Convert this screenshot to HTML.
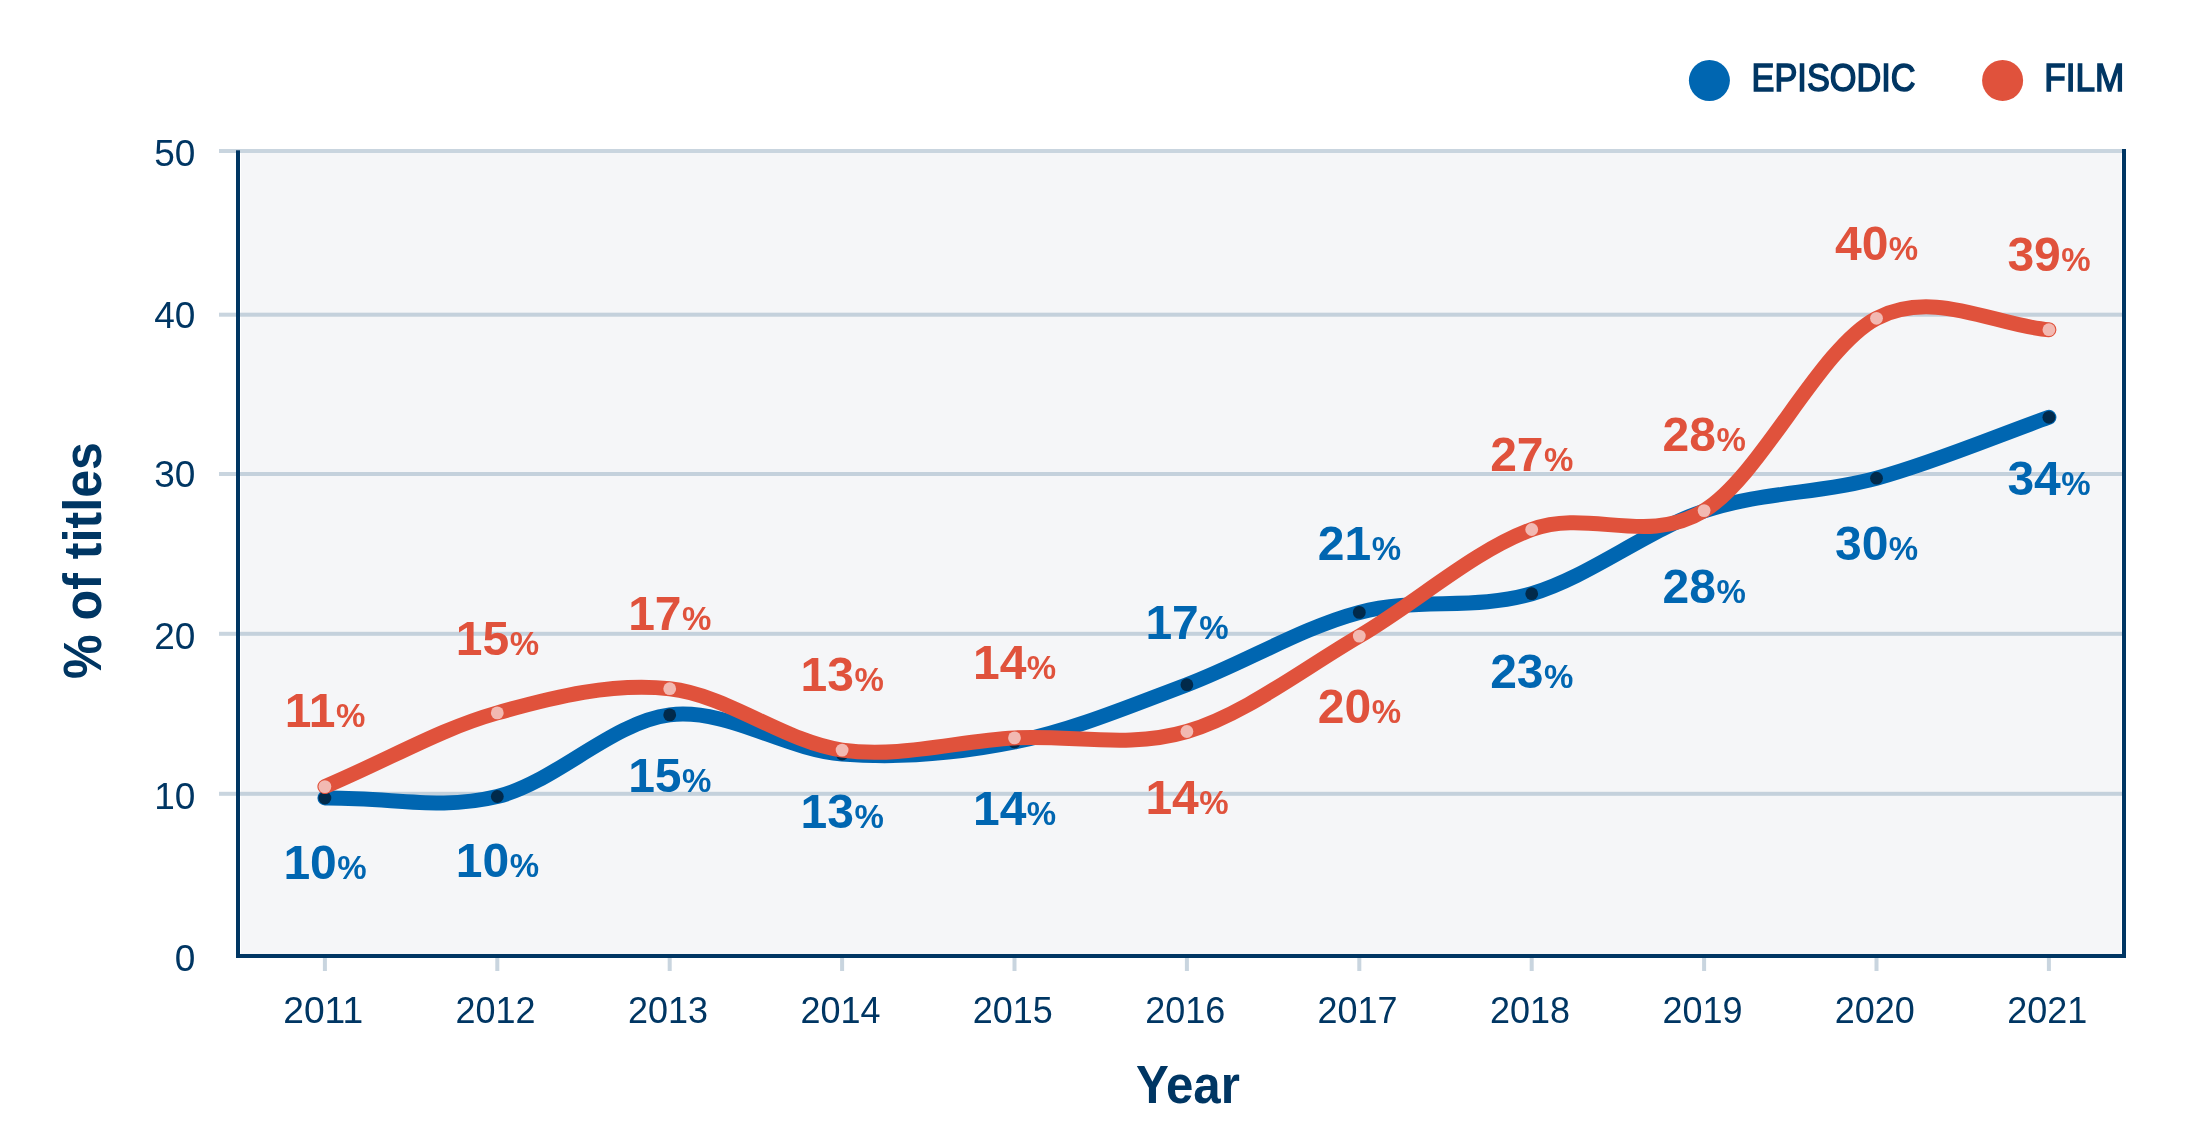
<!DOCTYPE html>
<html><head><meta charset="utf-8"><title>% of titles by year</title>
<style>
html,body{margin:0;padding:0;background:#fff;}
svg{display:block;will-change:transform;}
text{font-family:'Liberation Sans', Arial, sans-serif;}
</style></head><body>
<svg width="2197" height="1148" viewBox="0 0 2197 1148">
<rect x="0" y="0" width="2197" height="1148" fill="#fff"/>
<rect x="241" y="153" width="1880" height="801" fill="#F5F6F8"/>

<rect x="219" y="149.0" width="1903" height="4" fill="rgba(147,171,191,0.5)"/>
<rect x="219" y="312.7" width="1903" height="4" fill="rgba(147,171,191,0.5)"/>
<rect x="219" y="472.0" width="1903" height="4" fill="rgba(147,171,191,0.5)"/>
<rect x="219" y="631.8" width="1903" height="4" fill="rgba(147,171,191,0.5)"/>
<rect x="219" y="791.8" width="1903" height="4" fill="rgba(147,171,191,0.5)"/>
<rect x="322.9" y="958" width="4" height="13" fill="rgba(147,171,191,0.5)"/>
<rect x="495.3" y="958" width="4" height="13" fill="rgba(147,171,191,0.5)"/>
<rect x="667.7" y="958" width="4" height="13" fill="rgba(147,171,191,0.5)"/>
<rect x="840.1" y="958" width="4" height="13" fill="rgba(147,171,191,0.5)"/>
<rect x="1012.5" y="958" width="4" height="13" fill="rgba(147,171,191,0.5)"/>
<rect x="1184.9" y="958" width="4" height="13" fill="rgba(147,171,191,0.5)"/>
<rect x="1357.3" y="958" width="4" height="13" fill="rgba(147,171,191,0.5)"/>
<rect x="1529.7" y="958" width="4" height="13" fill="rgba(147,171,191,0.5)"/>
<rect x="1702.1" y="958" width="4" height="13" fill="rgba(147,171,191,0.5)"/>
<rect x="1874.5" y="958" width="4" height="13" fill="rgba(147,171,191,0.5)"/>
<rect x="2046.9" y="958" width="4" height="13" fill="rgba(147,171,191,0.5)"/>
<rect x="236" y="150.3" width="4" height="807.7" fill="#003663"/>
<rect x="2122" y="149" width="4" height="809" fill="#003663"/>
<rect x="236" y="954" width="1890" height="4" fill="#003663"/>
<text x="195.3" y="165.5" font-size="37" fill="#003663" text-anchor="end">50</text>
<text x="195.3" y="327.6" font-size="37" fill="#003663" text-anchor="end">40</text>
<text x="195.3" y="487.4" font-size="37" fill="#003663" text-anchor="end">30</text>
<text x="195.3" y="648.5" font-size="37" fill="#003663" text-anchor="end">20</text>
<text x="195.3" y="808.5" font-size="37" fill="#003663" text-anchor="end">10</text>
<text x="195.3" y="970.6" font-size="37" fill="#003663" text-anchor="end">0</text>
<text x="323.2" y="1023" font-size="37.5" fill="#003663" text-anchor="middle" textLength="80" lengthAdjust="spacingAndGlyphs">2011</text>
<text x="495.6" y="1023" font-size="37.5" fill="#003663" text-anchor="middle" textLength="80" lengthAdjust="spacingAndGlyphs">2012</text>
<text x="668.0" y="1023" font-size="37.5" fill="#003663" text-anchor="middle" textLength="80" lengthAdjust="spacingAndGlyphs">2013</text>
<text x="840.4" y="1023" font-size="37.5" fill="#003663" text-anchor="middle" textLength="80" lengthAdjust="spacingAndGlyphs">2014</text>
<text x="1012.8" y="1023" font-size="37.5" fill="#003663" text-anchor="middle" textLength="80" lengthAdjust="spacingAndGlyphs">2015</text>
<text x="1185.2" y="1023" font-size="37.5" fill="#003663" text-anchor="middle" textLength="80" lengthAdjust="spacingAndGlyphs">2016</text>
<text x="1357.6" y="1023" font-size="37.5" fill="#003663" text-anchor="middle" textLength="80" lengthAdjust="spacingAndGlyphs">2017</text>
<text x="1530.0" y="1023" font-size="37.5" fill="#003663" text-anchor="middle" textLength="80" lengthAdjust="spacingAndGlyphs">2018</text>
<text x="1702.4" y="1023" font-size="37.5" fill="#003663" text-anchor="middle" textLength="80" lengthAdjust="spacingAndGlyphs">2019</text>
<text x="1874.8" y="1023" font-size="37.5" fill="#003663" text-anchor="middle" textLength="80" lengthAdjust="spacingAndGlyphs">2020</text>
<text x="2047.2" y="1023" font-size="37.5" fill="#003663" text-anchor="middle" textLength="80" lengthAdjust="spacingAndGlyphs">2021</text>
<text x="1187.9" y="1102.9" font-size="53.8" font-weight="bold" fill="#003663" text-anchor="middle" textLength="104" lengthAdjust="spacingAndGlyphs">Year</text>
<text transform="translate(101,560.5) rotate(-90)" x="0" y="0" font-size="54" font-weight="bold" fill="#003663" text-anchor="middle" textLength="237" lengthAdjust="spacingAndGlyphs">% of titles</text>
<circle cx="1709.4" cy="80.5" r="20.5" fill="#0066B1"/>
<text x="1751.6" y="91" font-size="38.3" fill="#003663" stroke="#003663" stroke-width="1.5" textLength="164" lengthAdjust="spacingAndGlyphs">EPISODIC</text>
<circle cx="2002.6" cy="80.4" r="20.5" fill="#E0523C"/>
<text x="2044.2" y="91" font-size="38.3" fill="#003663" stroke="#003663" stroke-width="1.5" textLength="80" lengthAdjust="spacingAndGlyphs">FILM</text>
<path d="M324.90,798.00 C393.86,797.40 439.83,810.35 497.30,796.50 C554.77,782.65 612.23,721.98 669.70,714.90 C727.17,707.82 784.63,749.48 842.10,754.00 C899.57,758.52 957.03,753.55 1014.50,742.00 C1071.97,730.45 1129.43,706.30 1186.90,684.70 C1244.37,663.10 1301.83,627.57 1359.30,612.40 C1416.77,597.23 1474.23,610.60 1531.70,593.70 C1589.17,576.80 1646.63,530.25 1704.10,511.00 C1761.57,491.75 1819.03,493.82 1876.50,478.20 C1933.97,462.58 1997.18,435.57 2048.90,417.30" fill="none" stroke="#0066B1" stroke-width="15" stroke-linecap="round" stroke-linejoin="round"/>
<circle cx="324.9" cy="798.0" r="6.4" fill="#012A4B"/>
<circle cx="497.3" cy="796.5" r="6.4" fill="#012A4B"/>
<circle cx="669.7" cy="714.9" r="6.4" fill="#012A4B"/>
<circle cx="842.1" cy="754.0" r="6.4" fill="#012A4B"/>
<circle cx="1014.5" cy="742.0" r="6.4" fill="#012A4B"/>
<circle cx="1186.9" cy="684.7" r="6.4" fill="#012A4B"/>
<circle cx="1359.3" cy="612.4" r="6.4" fill="#012A4B"/>
<circle cx="1531.7" cy="593.7" r="6.4" fill="#012A4B"/>
<circle cx="1704.1" cy="511.0" r="6.4" fill="#012A4B"/>
<circle cx="1876.5" cy="478.2" r="6.4" fill="#012A4B"/>
<circle cx="2048.9" cy="417.3" r="6.4" fill="#012A4B"/>
<path d="M324.90,786.60 C393.86,757.12 439.83,729.22 497.30,712.90 C554.77,696.58 612.23,682.50 669.70,688.70 C727.17,694.90 784.63,741.90 842.10,750.10 C899.57,758.30 957.03,741.00 1014.50,737.90 C1071.97,734.80 1129.43,748.47 1186.90,731.50 C1244.37,714.53 1301.83,669.77 1359.30,636.10 C1416.77,602.43 1474.23,550.42 1531.70,529.50 C1589.17,508.58 1646.63,545.80 1704.10,510.60 C1761.57,475.40 1819.03,348.45 1876.50,318.30 C1933.97,288.15 1997.18,326.28 2048.90,329.70" fill="none" stroke="#E0523C" stroke-width="15" stroke-linecap="round" stroke-linejoin="round"/>
<circle cx="324.9" cy="786.6" r="6.4" fill="#F2B9B2"/>
<circle cx="497.3" cy="712.9" r="6.4" fill="#F2B9B2"/>
<circle cx="669.7" cy="688.7" r="6.4" fill="#F2B9B2"/>
<circle cx="842.1" cy="750.1" r="6.4" fill="#F2B9B2"/>
<circle cx="1014.5" cy="737.9" r="6.4" fill="#F2B9B2"/>
<circle cx="1186.9" cy="731.5" r="6.4" fill="#F2B9B2"/>
<circle cx="1359.3" cy="636.1" r="6.4" fill="#F2B9B2"/>
<circle cx="1531.7" cy="529.5" r="6.4" fill="#F2B9B2"/>
<circle cx="1704.1" cy="510.6" r="6.4" fill="#F2B9B2"/>
<circle cx="1876.5" cy="318.3" r="6.4" fill="#F2B9B2"/>
<circle cx="2048.9" cy="329.7" r="6.4" fill="#F2B9B2"/>
<text x="325.0" y="727.2" fill="#E0523C" text-anchor="middle" font-weight="bold"><tspan font-size="48">11</tspan><tspan font-size="33" dx="0.5">%</tspan></text>
<text x="325.0" y="878.5" fill="#0066B1" text-anchor="middle" font-weight="bold"><tspan font-size="48">10</tspan><tspan font-size="33" dx="0.5">%</tspan></text>
<text x="497.4" y="654.9" fill="#E0523C" text-anchor="middle" font-weight="bold"><tspan font-size="48">15</tspan><tspan font-size="33" dx="0.5">%</tspan></text>
<text x="497.4" y="876.5" fill="#0066B1" text-anchor="middle" font-weight="bold"><tspan font-size="48">10</tspan><tspan font-size="33" dx="0.5">%</tspan></text>
<text x="669.8" y="630.2" fill="#E0523C" text-anchor="middle" font-weight="bold"><tspan font-size="48">17</tspan><tspan font-size="33" dx="0.5">%</tspan></text>
<text x="669.8" y="791.8" fill="#0066B1" text-anchor="middle" font-weight="bold"><tspan font-size="48">15</tspan><tspan font-size="33" dx="0.5">%</tspan></text>
<text x="842.2" y="691.0" fill="#E0523C" text-anchor="middle" font-weight="bold"><tspan font-size="48">13</tspan><tspan font-size="33" dx="0.5">%</tspan></text>
<text x="842.2" y="828.2" fill="#0066B1" text-anchor="middle" font-weight="bold"><tspan font-size="48">13</tspan><tspan font-size="33" dx="0.5">%</tspan></text>
<text x="1014.6" y="679.0" fill="#E0523C" text-anchor="middle" font-weight="bold"><tspan font-size="48">14</tspan><tspan font-size="33" dx="0.5">%</tspan></text>
<text x="1014.6" y="825.4" fill="#0066B1" text-anchor="middle" font-weight="bold"><tspan font-size="48">14</tspan><tspan font-size="33" dx="0.5">%</tspan></text>
<text x="1187.0" y="814.1" fill="#E0523C" text-anchor="middle" font-weight="bold"><tspan font-size="48">14</tspan><tspan font-size="33" dx="0.5">%</tspan></text>
<text x="1187.0" y="638.5" fill="#0066B1" text-anchor="middle" font-weight="bold"><tspan font-size="48">17</tspan><tspan font-size="33" dx="0.5">%</tspan></text>
<text x="1359.4" y="723.3" fill="#E0523C" text-anchor="middle" font-weight="bold"><tspan font-size="48">20</tspan><tspan font-size="33" dx="0.5">%</tspan></text>
<text x="1359.4" y="559.6" fill="#0066B1" text-anchor="middle" font-weight="bold"><tspan font-size="48">21</tspan><tspan font-size="33" dx="0.5">%</tspan></text>
<text x="1531.8" y="471.2" fill="#E0523C" text-anchor="middle" font-weight="bold"><tspan font-size="48">27</tspan><tspan font-size="33" dx="0.5">%</tspan></text>
<text x="1531.8" y="687.8" fill="#0066B1" text-anchor="middle" font-weight="bold"><tspan font-size="48">23</tspan><tspan font-size="33" dx="0.5">%</tspan></text>
<text x="1704.2" y="451.4" fill="#E0523C" text-anchor="middle" font-weight="bold"><tspan font-size="48">28</tspan><tspan font-size="33" dx="0.5">%</tspan></text>
<text x="1704.2" y="603.1" fill="#0066B1" text-anchor="middle" font-weight="bold"><tspan font-size="48">28</tspan><tspan font-size="33" dx="0.5">%</tspan></text>
<text x="1876.6" y="260.0" fill="#E0523C" text-anchor="middle" font-weight="bold"><tspan font-size="48">40</tspan><tspan font-size="33" dx="0.5">%</tspan></text>
<text x="1876.6" y="559.7" fill="#0066B1" text-anchor="middle" font-weight="bold"><tspan font-size="48">30</tspan><tspan font-size="33" dx="0.5">%</tspan></text>
<text x="2049.0" y="271.0" fill="#E0523C" text-anchor="middle" font-weight="bold"><tspan font-size="48">39</tspan><tspan font-size="33" dx="0.5">%</tspan></text>
<text x="2049.0" y="495.1" fill="#0066B1" text-anchor="middle" font-weight="bold"><tspan font-size="48">34</tspan><tspan font-size="33" dx="0.5">%</tspan></text>
</svg>
</body></html>
